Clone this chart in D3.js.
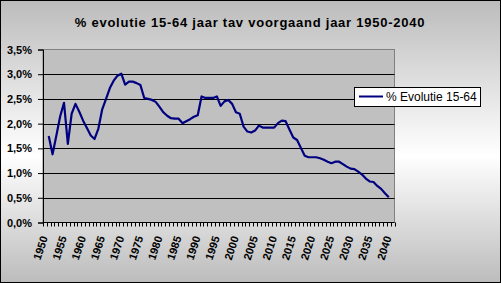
<!DOCTYPE html>
<html>
<head>
<meta charset="utf-8">
<title>% evolutie 15-64</title>
<script src="https://cdn.jsdelivr.net/npm/d3@7"></script>
<style type="text/css">
	body {
		margin: 0;
		font-family: "Liberation Sans", Arial, sans-serif;
	}
	.grid line {
		stroke: black;
		stroke-width: 1px;
	}
	.yaxis text {
		font-size: 11px;
		font-weight: bold;
	}
	.xlabel {
		font-size: 11px;
		font-weight: bold;
	}
</style>
</head>
<body>
<script type="text/javascript">

var width = 501,
    height = 283;

// years on the category axis (last one stays empty, as in the original)
var years = d3.range(1950, 2042);
var labelYears = d3.range(1950, 2041, 5);
var yTicks = [0, 0.5, 1, 1.5, 2, 2.5, 3, 3.5];

// % evolution vs previous year, 1951..2040
var dataYears = d3.range(1951, 2041);
var evolutie = [
	1.75, 1.38, 1.76, 2.15, 2.42, 1.59, 2.20, 2.40, 2.24, 2.06,
	1.91, 1.76, 1.69, 1.90, 2.29, 2.50, 2.72, 2.87, 2.97, 3.01,
	2.79, 2.85, 2.85, 2.82, 2.78, 2.52, 2.50, 2.48, 2.44, 2.34,
	2.23, 2.16, 2.11, 2.10, 2.10, 2.01, 2.05, 2.09, 2.14, 2.17,
	2.55, 2.52, 2.52, 2.52, 2.55, 2.36, 2.45, 2.48, 2.40, 2.23,
	2.20, 1.94, 1.84, 1.82, 1.86, 1.96, 1.92, 1.92, 1.92, 1.92,
	2.01, 2.06, 2.05, 1.88, 1.72, 1.67, 1.51, 1.35, 1.32, 1.32,
	1.32, 1.30, 1.27, 1.23, 1.20, 1.23, 1.23, 1.18, 1.13, 1.09,
	1.08, 1.03, 0.97, 0.89, 0.83, 0.82, 0.74, 0.68, 0.59, 0.51
];

var title = "% evolutie 15-64 jaar tav voorgaand jaar 1950-2040";
var seriesName = "% Evolutie 15-64";

var plot = {left: 43, right: 394.5, top: 49.5, bottom: 222.5};

var svg = d3.select("body").append("svg")
	.attr("width", width)
	.attr("height", height);

var grad = svg.append("defs").append("linearGradient")
	.attr("id", "bg").attr("x1", 0).attr("y1", 0).attr("x2", 0).attr("y2", 1);
grad.append("stop").attr("offset", "0%").attr("stop-color", "#bcbcbc");
grad.append("stop").attr("offset", "55%").attr("stop-color", "#ffffff");
grad.append("stop").attr("offset", "100%").attr("stop-color", "#bcbcbc");

svg.append("rect")
	.attr("x", 0.5).attr("y", 0.5)
	.attr("width", width - 1).attr("height", height - 1)
	.attr("fill", "url(#bg)")
	.attr("stroke", "black");

svg.append("text")
	.attr("x", 250).attr("y", 27)
	.attr("text-anchor", "middle")
	.style("font-size", "13px")
	.style("font-weight", "bold")
	.style("letter-spacing", "0.75px")
	.text(title);

var x = d3.scaleBand().domain(years).range([plot.left, plot.right]).padding(0);
var y = d3.scaleLinear().domain([0, 3.5]).range([plot.bottom, plot.top]);

// plot area
svg.append("rect")
	.attr("x", plot.left).attr("y", plot.top)
	.attr("width", plot.right - plot.left).attr("height", plot.bottom - plot.top)
	.attr("fill", "#c0c0c0")
	.attr("stroke", "#808080");

svg.append("g").attr("class", "grid")
	.selectAll("line")
	.data(yTicks.filter(function(d) { return d > 0 && d < 3.5; }))
	.enter().append("line")
	.attr("x1", plot.left).attr("x2", plot.right)
	.attr("y1", function(d) { return Math.round(y(d)) + 0.5; })
	.attr("y2", function(d) { return Math.round(y(d)) + 0.5; });

var nl = d3.formatLocale({decimal: ",", thousands: ".", grouping: [3], currency: ["", "€"]});
var pct = nl.format(".1f");

var yAxis = svg.append("g").attr("class", "yaxis")
	.attr("transform", "translate(" + plot.left + ",0)")
	.call(d3.axisLeft(y).tickValues(yTicks).tickSize(5).tickPadding(6)
		.tickFormat(function(d) { return pct(d) + "%"; }));
yAxis.select(".domain").attr("stroke", "black");
yAxis.selectAll("text").attr("fill", "black");

// category axis: ticks between categories, labels every 5 years
var xg = svg.append("g").attr("class", "xaxis");
xg.append("line")
	.attr("x1", plot.left).attr("x2", plot.right)
	.attr("y1", plot.bottom).attr("y2", plot.bottom)
	.attr("stroke", "black");
xg.selectAll(".tick")
	.data(years.concat([null]))
	.enter().append("line")
	.attr("class", "tick")
	.attr("x1", function(d) { return Math.round(d === null ? plot.right : x(d)) + 0.5; })
	.attr("x2", function(d) { return Math.round(d === null ? plot.right : x(d)) + 0.5; })
	.attr("y1", plot.bottom).attr("y2", plot.bottom + 4)
	.attr("stroke", "black");
xg.selectAll(".xlabel")
	.data(labelYears)
	.enter().append("text")
	.attr("class", "xlabel")
	.attr("text-anchor", "end")
	.attr("transform", function(d) {
		return "translate(" + (x(d) + x.bandwidth() / 2 + 3) + "," + (plot.bottom + 15) + ") rotate(-72)";
	})
	.text(function(d) { return d; });

var line = d3.line()
	.x(function(d, i) { return x(dataYears[i]) + x.bandwidth() / 2; })
	.y(function(d) { return y(d); });

svg.append("path")
	.datum(evolutie)
	.attr("fill", "none")
	.attr("stroke", "#000080")
	.attr("stroke-width", 2.2)
	.attr("stroke-linejoin", "round")
	.attr("d", line);

// legend
var lg = svg.append("g").attr("transform", "translate(354,87)");
lg.append("rect")
	.attr("x", 0.5).attr("y", 0.5).attr("width", 126).attr("height", 19)
	.attr("fill", "white").attr("stroke", "black");
lg.append("line")
	.attr("x1", 5).attr("x2", 29).attr("y1", 9.5).attr("y2", 9.5)
	.attr("stroke", "#000080").attr("stroke-width", 2);
lg.append("text")
	.attr("x", 32).attr("y", 14)
	.style("font-size", "12px")
	.text(seriesName);

</script>
</body>
</html>
